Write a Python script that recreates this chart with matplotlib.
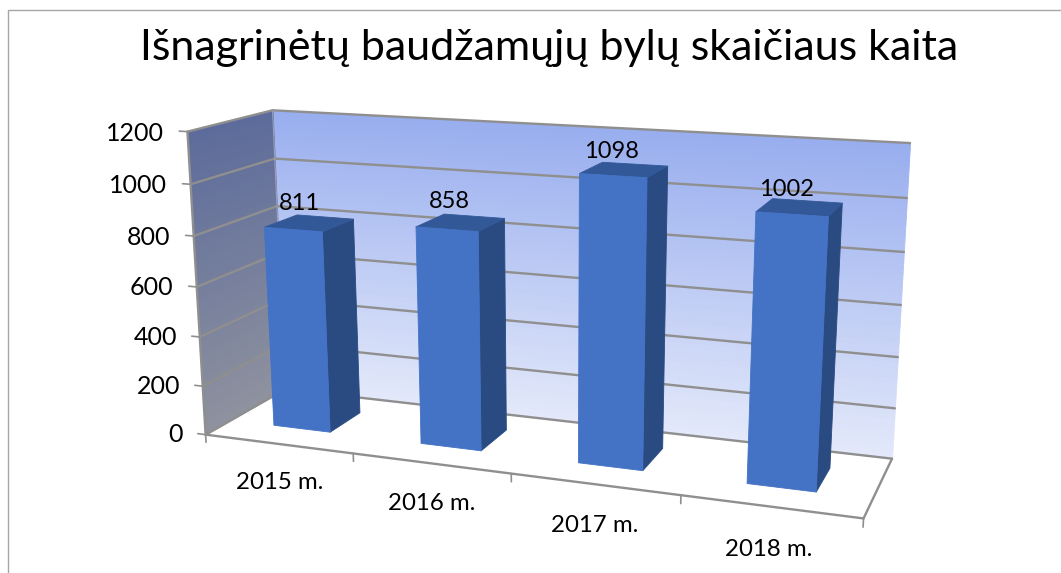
import numpy as np
import matplotlib
matplotlib.use("Agg")
import matplotlib.pyplot as plt
from matplotlib.patches import Rectangle
from mpl_toolkits.mplot3d.art3d import Poly3DCollection, Line3DCollection

title = "Išnagrinėtų baudžamųjų bylų skaičiaus kaita"
categories = ["2015 m.", "2016 m.", "2017 m.", "2018 m."]
values = [811, 858, 1098, 1002]
y_ticks = [0, 200, 400, 600, 800, 1000, 1200]

W, H = 1061, 573
plt.rcParams["font.family"] = ["Lato", "DejaVu Sans"]
fig = plt.figure(figsize=(W / 100, H / 100), dpi=100, facecolor="white")
ax = fig.add_axes([0, 0, 1, 1], projection="3d", computed_zorder=False)
ax.set_axis_off()
ax.set_xlim(0, 4); ax.set_ylim(0, 1); ax.set_zlim(0, 1200)

# camera: a projective map fitted to the frame of the reference chart
world = np.array([
    [0, 0, 0], [1, 0, 0], [2, 0, 0], [3, 0, 0], [4, 0, 0],
    [0, 1, 0], [4, 1, 0], [0, 0, 1200], [0, 1, 1200], [4, 1, 1200],
], float)
pixel = np.array([
    [206, 434], [353, 453], [511, 473], [682, 496], [863, 519],
    [285, 390], [892, 458], [187, 132], [273, 110], [910, 143],
], float)
rows = []
for (x, y, z), (u, v) in zip(world, pixel):
    p = [x, y, z, 1]
    rows.append(p + [0, 0, 0, 0] + [-u * c for c in p])
    rows.append([0, 0, 0, 0] + p + [-v * c for c in p])
scale = np.diag([1, 1, 1 / 1200, 1, 1, 1, 1 / 1200, 1, 1, 1, 1 / 1200, 1])
_, _, vt = np.linalg.svd(np.array(rows) @ scale)
cam = (scale @ vt[-1]).reshape(3, 4)
if cam[2, 3] < 0:
    cam = -cam


def get_proj():
    to_px = np.array([[1, 0, 0], [0, -1, H], [0, 0, 1]], float)
    to_data = ax.transData.inverted().get_matrix()
    m = to_data @ to_px @ cam
    return np.array([m[0], m[1], [0, 0, 0, 0.5 * m[2][3]], m[2]])


ax.get_proj = get_proj


def poly(verts, color, z, lw=0.6):
    c = Poly3DCollection(verts, facecolors=color, edgecolors=color,
                         linewidths=lw, zorder=z)
    ax.add_collection3d(c, autolim=False)
    c.set_clip_on(False)
    return c


def line(p, q, z=3, color="#8f8f8f", lw=1.7):
    c = Line3DCollection([[p, q]], colors=color, linewidths=lw, zorder=z,
                         capstyle="round")
    ax.add_collection3d(c, autolim=False)
    c.set_clip_on(False)


def label(x, y, z, text, **kw):
    u, v, w = cam @ np.array([x, y, z, 1.0])
    fig.text(u / w / W, 1 - v / w / H, text, color="black", **kw)


def mix(a, b, t):
    a, b = matplotlib.colors.to_rgb(a), matplotlib.colors.to_rgb(b)
    return tuple(p + (q - p) * t for p, q in zip(a, b))


# walls with vertical gradient
edges = np.linspace(0, 1200, 61)
for i in range(60):
    z0, z1 = edges[i], edges[i + 1]
    t = (z0 + z1) / 2400
    poly([[(0, 1, z0), (4, 1, z0), (4, 1, z1), (0, 1, z1)]],
         mix("#E4E9FA", "#98AEEE", t), 1)
    poly([[(0, 0, z0), (0, 1, z0), (0, 1, z1), (0, 0, z1)]],
         mix("#8F929E", "#5C6B9B", t), 1)

# gridlines, ticks and tick labels
for v in y_ticks:
    line((0, 0, v), (0, 1, v))
    line((0, 1, v), (4, 1, v))
    line((-0.055, 0, v), (0, 0, v), lw=1.2)
    label(-0.16, 0, v - 12, str(v), ha="right", va="center", fontsize=18)
line((0, 0, 0), (0, 0, 1200))
line((0, 1, 0), (0, 1, 1200), color="#9aa0b8", lw=0.8)

# floor edges and category ticks
line((0, 0, 0), (4, 0, 0))
line((4, 0, 0), (4, 1, 0))
for i in range(5):
    line((i, 0, 0), (i, 0, -32), lw=1.2)
for i, name in enumerate(categories):
    label(i + 0.5, 0, -160, name, ha="center", va="center", fontsize=17.3)

# bars
bar_w, bar_y0, bar_y1 = 0.39, 0.31, 0.72
for i, v in enumerate(values):
    x0, x1 = i + 0.49 - bar_w / 2, i + 0.49 + bar_w / 2
    y0, y1 = bar_y0, bar_y1
    poly([[(x1, y0, 0), (x1, y1, 0), (x1, y1, v), (x1, y0, v)]], "#2A4A82", 4 + i)
    poly([[(x0, y0, v), (x1, y0, v), (x1, y1, v), (x0, y1, v)]], "#335898", 4 + i)
    poly([[(x0, y0, 0), (x1, y0, 0), (x1, y0, v), (x0, y0, v)]], "#4472C4", 4 + i)
    label((x0 + x1) / 2 + 0.05 - 0.027 * i, y0, v + (63 if v < 1000 else 47), str(v),
          ha="center", va="bottom", fontsize=17)

# outer chart frame
fig.add_artist(Rectangle((8 / W, -0.1), 1.1, 1.1 - 10 / H, transform=fig.transFigure,
                         facecolor="none", edgecolor="#a6a6a6", lw=1.0))

fig.suptitle(title, x=549 / W, y=1 - 48 / H, ha="center", va="center",
             fontsize=31, color="black")

fig.savefig("out.png", dpi=100)
